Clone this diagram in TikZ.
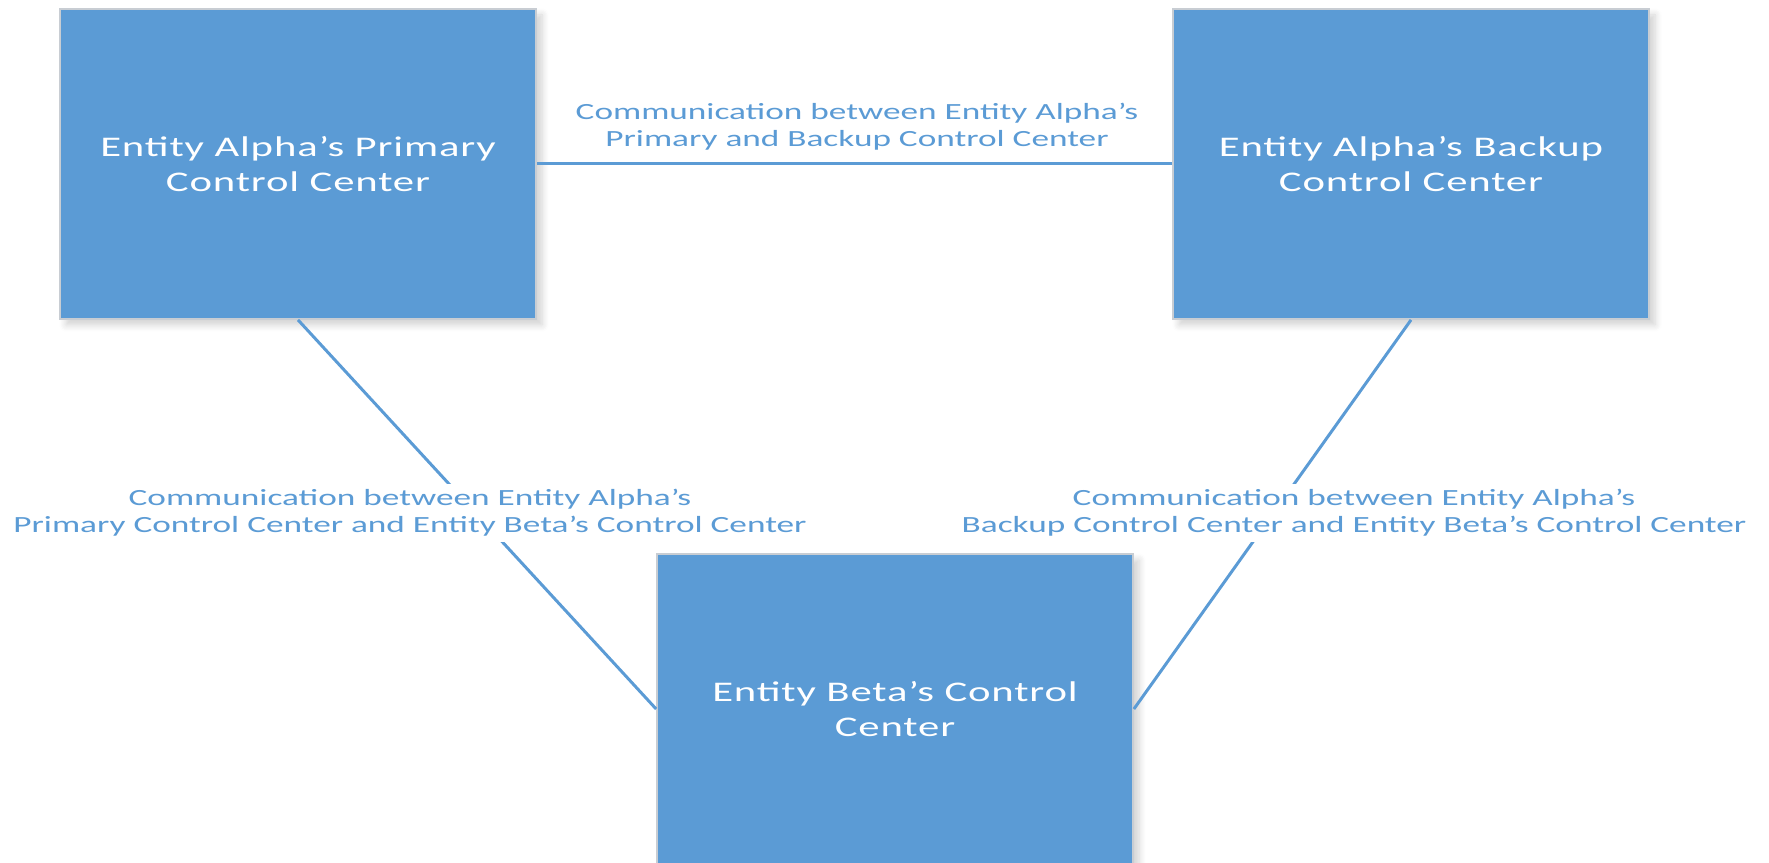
\documentclass[tikz,border=0pt]{standalone}
\usepackage{fontspec}
\setmainfont{Carlito}
\newfontfamily\boxfont[FakeStretch=1.5, LetterSpace=3]{Carlito}
\newfontfamily\linkfont[FakeStretch=1.52]{Carlito}
\usetikzlibrary{shadows.blur}
\definecolor{ccblue}{HTML}{5B9BD5}
\definecolor{ccedge}{HTML}{C8CDD3}
\tikzset{
  centerbox/.style={rectangle, fill=ccblue, draw=ccedge, line width=0.5pt,
    minimum width=47.6mm, minimum height=31mm, inner sep=0pt,
    align=center, text=white,
    font=\boxfont\fontsize{8.1}{9.96}\selectfont,
    blur shadow={shadow xshift=0.6mm, shadow yshift=-0.6mm,
      shadow blur steps=6, shadow opacity=18}},
  link/.style={draw=ccblue, line width=0.85pt},
  linklabel/.style={align=center, text=ccblue, inner sep=1.5pt,
    font=\linkfont\fontsize{6.6}{7.7}\selectfont},
}
\begin{document}
\begin{tikzpicture}[x=0.1mm, y=-0.1mm]
\useasboundingbox (0,0) rectangle (1769,863);
% control centres
\node[centerbox] (primary) at (298,164) {Entity Alpha’s Primary\\Control Center};
\node[centerbox] (backup) at (1411,164) {Entity Alpha’s Backup\\Control Center};
\node[centerbox] (beta) at (895,709) {Entity Beta’s Control\\Center};
% communication links
\draw[link] (primary.east) -- (backup.west);
\draw[link] (primary.south) -- (beta.west);
\draw[link] (backup.south) -- (beta.east);
% link labels
\node[linklabel] (lblpb) at (857,127) {Communication between Entity Alpha’s\\Primary and Backup Control Center};
\node[linklabel, fill=white] (lblpc) at (410,513) {Communication between Entity Alpha’s\\Primary Control Center and Entity Beta’s Control Center};
\node[linklabel, fill=white] (lblbc) at (1354,513) {Communication between Entity Alpha’s\\Backup Control Center and Entity Beta’s Control Center};
\end{tikzpicture}
\end{document}
